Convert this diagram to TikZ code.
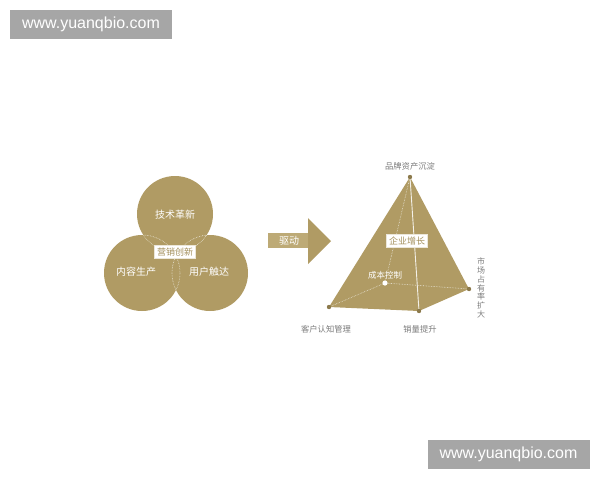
\documentclass[tikz,border=0pt]{standalone}
\usepackage{fontspec}
\setmainfont{Noto Sans CJK SC}
\newfontfamily\wmfont{Liberation Sans}
\usetikzlibrary{positioning}
\definecolor{cgold}{HTML}{B09B64}
\definecolor{cgoldlight}{HTML}{BDAA76}
\definecolor{cdot}{HTML}{8C7A4C}
\definecolor{cgray}{HTML}{7A7A7A}
\definecolor{cmark}{HTML}{A6A6A6}
\definecolor{ctag}{HTML}{A38F5B}
\tikzset{
  bubble/.style={fill=cgold},
  bubbletext/.style={text=white, font=\fontsize{10}{10}\selectfont},
  innerline/.style={draw=white!75!cgold, densely dotted, line width=0.6pt},
  tagbox/.style={fill=white, draw=white!75!cgold, line width=0.6pt, text=ctag,
    inner sep=2.5pt, font=\fontsize{9}{9}\selectfont},
  cornerlabel/.style={text=cgray, font=\fontsize{8.3}{8.3}\selectfont, inner sep=0pt},
  vertexdot/.style={fill=cdot},
  watermark/.style={fill=cmark, text=white, minimum width=162pt, minimum height=29pt,
    inner sep=0pt, font=\wmfont\fontsize{16}{16}\selectfont}
}

\begin{document}
\begin{tikzpicture}[x=1pt, y=-1pt]
  \useasboundingbox (0,0) rectangle (600,480);

  % watermarks
  \node[watermark] (wmtop) at (91,24.5) {www.yuanqbio.com};
  \node[watermark] (wmbottom) at (508.5,454.5) {www.yuanqbio.com};

  % three circles
  \fill[bubble] (175,214) circle (38);
  \fill[bubble] (142,273) circle (38);
  \fill[bubble] (210,273) circle (38);
  \begin{scope}
    \clip (175,214) circle (38);
    \draw[innerline] (142,273) circle (38) (210,273) circle (38);
  \end{scope}
  \begin{scope}
    \clip (142,273) circle (38);
    \draw[innerline] (175,214) circle (38) (210,273) circle (38);
  \end{scope}
  \begin{scope}
    \clip (210,273) circle (38);
    \draw[innerline] (175,214) circle (38) (142,273) circle (38);
  \end{scope}
  \node[bubbletext] (tech) at (175,215) {技术革新};
  \node[bubbletext] (content) at (136,272) {内容生产};
  \node[bubbletext] (reach) at (209,272) {用户触达};
  \node[tagbox] (marketing) at (175,252) {营销创新};

  % arrow
  \fill[cgoldlight] (268,233) rectangle (309,248);
  \fill[cgold] (308,218) -- (331,241) -- (308,264) -- cycle;
  \node[bubbletext] (drive) at (289,240.5) {驱动};

  % pyramid
  \coordinate (apex) at (410,177);
  \coordinate (left) at (329,307);
  \coordinate (front) at (419,311);
  \coordinate (right) at (469,289);
  \coordinate (back) at (385,283);
  \fill[cgold] (apex) -- (left) -- (front) -- (right) -- cycle;
  \draw[innerline] (apex) -- (back) (left) -- (back) -- (right);
  \draw[white!85!cgold, line width=0.9pt] (apex) -- (front);
  \foreach \v in {apex,left,front,right}
    \fill[vertexdot] (\v) circle (2.2);
  \fill[white] (back) circle (2.6);
  \node[tagbox] (growth) at (407,241) {企业增长};
  \node[text=white, font=\fontsize{8.5}{8.5}\selectfont, inner sep=0pt] (cost) at (385,275) {成本控制};
  \node[cornerlabel] (brand) at (410,166) {品牌资产沉淀};
  \node[cornerlabel] (customer) at (326,329) {客户认知管理};
  \node[cornerlabel] (sales) at (420,329) {销量提升};
  \node[cornerlabel, align=center, font=\fontsize{8}{8.7}\selectfont] (share) at (481,288)
    {市\\场\\占\\有\\率\\扩\\大};
\end{tikzpicture}
\end{document}
